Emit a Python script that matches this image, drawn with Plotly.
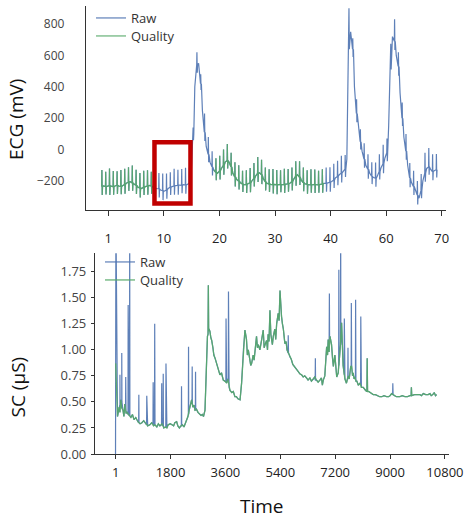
import plotly.graph_objects as go

# ---------------- ECG (top) data ----------------
ecg_tick_labels = ["1", "10", "20", "30", "40", "60", "70"]
ECG_T0 = -0.119      # position of first sample (tick-index units)
ECG_DT = 0.0342      # sampling step of the baseline
ecg_base = [
    -235, -232, -236, -234, -230, -233, -237, -232, -228, -232,
    -235, -230, -222, -215, -208, -205, -212, -220, -228, -238,
    -245, -248, -240, -236, -232, -228, -232, -240, -246, -248,
    -250, -258, -262, -265, -258, -248, -240, -236, -232, -230,
    -228, -226, -228, -224, -226, -222, -215, -190, 100, 400,
    540, 550, 420, 250, 110, 20, -30, -80, -110, -130,
    -145, -150, -135, -120, -100, -80, -70, -80, -110, -150,
    -175, -190, -200, -212, -220, -224, -222, -218, -212, -200,
    -185, -168, -152, -148, -160, -185, -205, -215, -220, -222,
    -224, -222, -225, -223, -222, -224, -222, -220, -218, -215,
    -205, -190, -170, -160, -175, -195, -210, -218, -222, -224,
    -225, -224, -222, -224, -225, -222, -220, -215, -214, -212,
    -208, -204, -195, -180, -172, -160, -150, -140, -125, -60,
    700, 750, 640, 400, 230, 150, 50, -10, -60, -100,
    -125, -150, -170, -178, -182, -170, -140, -115, -90, -55,
    -20, 150, 560, 720, 690, 600, 530, 360, 200, 80,
    -10, -100, -180, -210, -235, -260, -290, -310, -260, -200,
    -150, -120, -110, -125, -140, -135, -128,
]
ecg_up = [
    105, 95, 110, 100, 90, 105, 100, 95, 110, 100, 95, 105, 100, 90,
    85, 100, 110, 105, 95, 110, 100, 105, 110, 100, 40,
    80, 60, 120, 110, 100,
    90, 95, 100, 105, 90, 95, 100, 85, 90, 95, 100, 105, 95, 90, 95,
    100, 95, 90, 100, 95, 90, 95, 100, 95, 90, 100, 95, 90, 95,
    100, 95, 105, 100, 110, 90, 200, 70, 90, 80, 100, 95, 90, 100, 110,
    120, 90, 115, 140, 90, 100, 110, 95, 100, 90, 105, 130, 120, 110, 100,
]
ecg_dn = [
    55, 50, 60, 50, 55, 50, 60, 55, 50, 55, 60, 50, 55, 50,
    50, 55, 60, 55, 50, 55, 60, 50, 55, 50, 40,
    50, 40, 55, 50, 55,
    50, 55, 60, 50, 55, 60, 55, 50, 55, 60, 50, 55, 60, 55, 50,
    55, 60, 50, 55, 50, 55, 60, 50, 55, 60, 50, 55, 50, 55,
    55, 60, 50, 55, 60, 50, 60, 50, 55, 50, 55, 60, 50, 55, 50,
    60, 55, 50, 55, 60, 50, 55, 60, 55, 60, 50, 55, 50, 55, 50,
]
ecg_quality_start = [-0.2, 1.89]
ecg_quality_end = [0.786, 3.90]

# ---------------- SC (bottom) data ----------------
sc_tick_vals = [1, 1800, 3600, 5400, 7200, 9000, 10800]
sc_tick_text = ["1", "1800", "3600", "5400", "7200", "9000", "10800"]
sc_t = [
    0, 60, 110, 140, 170, 200, 240, 270, 300, 340, 370, 440, 500, 550, 600, 660,
    730, 800, 860, 920, 990, 1050, 1120, 1180, 1240, 1290, 1350, 1400, 1450, 1520,
    1580, 1620, 1680, 1720, 1790, 1850, 1900, 1940, 2000, 2040, 2090, 2140, 2190,
    2240, 2280, 2310, 2340, 2370, 2410, 2440, 2490, 2530, 2570, 2600, 2650, 2700,
    2750, 2800, 2840, 2880, 2930, 2980, 3010, 3030, 3040, 3050, 3060, 3090, 3120,
    3150, 3190, 3220, 3260, 3310, 3360, 3420, 3470, 3530, 3580, 3640, 3680, 3720,
    3750, 3810, 3860, 3910, 3960, 4010, 4080, 4130, 4190, 4240, 4290, 4320, 4350,
    4400, 4430, 4460, 4510, 4540, 4570, 4620, 4650, 4680, 4730, 4760, 4790, 4840,
    4870, 4900, 4950, 4980, 5000, 5030, 5060, 5090, 5110, 5140, 5170, 5220, 5250,
    5280, 5330, 5360, 5390, 5410, 5440, 5470, 5500, 5550, 5590, 5620, 5670, 5720,
    5760, 5810, 5870, 5940, 5990, 6040, 6100, 6150, 6200, 6260, 6310, 6370, 6420,
    6480, 6530, 6590, 6640, 6700, 6750, 6780, 6810, 6860, 6920, 6950, 6970, 7000,
    7030, 7080, 7110, 7140, 7190, 7220, 7250, 7300, 7330, 7360, 7410, 7440, 7460,
    7490, 7520, 7570, 7600, 7630, 7660, 7680, 7710, 7740, 7770, 7790, 7820, 7850,
    7880, 7910, 7960, 8010, 8060, 8120, 8160, 8200, 8240, 8250, 8262, 8300, 8340,
    8400, 8450, 8520, 8600, 8660, 8730, 8800, 8890, 8950, 9000, 9050, 9100, 9150,
    9210, 9320, 9400, 9490, 9570, 9650, 9690, 9700, 9712, 9800, 9880, 9980, 10030,
    10090, 10170, 10250, 10310, 10350, 10400, 10450, 10490, 10530,
]
sc_quality = [
    0.87, 0.36, 0.45, 0.40, 0.52, 0.44, 0.42, 0.36, 0.48, 0.39, 0.40, 0.37, 0.35, 0.38, 0.33, 0.35,
    0.31, 0.29, 0.30, 0.32, 0.29, 0.27, 0.28, 0.30, 0.27, 0.28, 0.26, 0.29, 0.27, 0.29,
    0.25, 0.26, 0.25, 0.28, 0.29, 0.28, 0.27, 0.30, 0.31, 0.27, 0.25, 0.27, 0.28,
    0.26, 0.29, 0.30, 0.33, 0.36, 0.42, 0.45, 0.52, 0.45, 0.47, 0.42, 0.43, 0.40,
    0.38, 0.37, 0.38, 0.36, 0.42, 0.95, 1.13, 1.15, 1.62, 1.18, 1.20, 1.18, 1.12,
    1.09, 1.02, 0.95, 0.92, 0.87, 0.80, 0.76, 0.78, 0.71, 0.70, 0.68, 0.72, 0.64,
    0.61, 0.59, 0.60, 0.55, 0.55, 0.53, 0.52, 0.68, 1.00, 1.19, 1.10, 0.95, 1.00,
    0.92, 0.85, 0.87, 0.95, 0.90, 1.00, 1.13, 1.02, 1.05, 1.00, 1.08, 1.10, 1.19,
    1.02, 1.05, 1.09, 1.00, 1.15, 1.08, 1.38, 1.15, 1.12, 1.05, 1.13, 1.20, 1.10,
    1.25, 1.35, 1.28, 1.57, 1.40, 1.32, 1.25, 1.20, 1.06, 1.08, 1.00, 0.97, 0.93,
    0.91, 0.86, 0.84, 0.81, 0.79, 0.77, 0.76, 0.74, 0.75, 0.73, 0.71, 0.73, 0.70,
    0.72, 0.74, 0.71, 0.69, 0.71, 0.73, 0.66, 0.71, 0.75, 1.03, 0.95, 1.10, 0.98,
    1.13, 1.05, 0.92, 0.84, 0.95, 0.80, 0.74, 0.78, 0.88, 1.00, 1.26, 1.00, 0.85,
    0.78, 0.72, 0.68, 0.73, 0.75, 0.72, 0.80, 0.84, 0.84, 0.75, 0.78, 0.72, 0.74,
    0.70, 0.70, 0.66, 0.68, 0.64, 0.64, 0.62, 0.61, 0.60, 0.92, 0.60, 0.60, 0.59,
    0.58, 0.57, 0.57, 0.56, 0.55, 0.55, 0.56, 0.55, 0.55, 0.56, 0.58, 0.57, 0.56,
    0.55, 0.55, 0.56, 0.55, 0.55, 0.56, 0.56, 0.64, 0.56, 0.57, 0.57, 0.57, 0.56,
    0.58, 0.57, 0.57, 0.58, 0.56, 0.57, 0.59, 0.56, 0.57,
]
# raw-only samples at the very start (signal rising from 0)
sc_raw_start_t = [-5, 8]
sc_raw_start_v = [0.0, 2.3]
# raw artefact spikes: time, peak value, level the spike rises from
sc_spike_t = [140, 200, 330, 410, 460, 760, 1020, 1230, 1280, 1510, 1560,
              1650, 2160, 2390, 2510, 2620, 3620, 3700, 5660, 6550, 7010, 7320,
              7380, 7400, 7500, 7620, 7730, 7870, 8040, 9090]
sc_spike_v = [0.76, 0.97, 0.74, 1.43, 2.3, 0.57, 0.56, 0.69, 1.25, 0.68, 0.77,
              0.87, 0.65, 1.03, 0.84, 0.79, 1.30, 1.56, 1.14, 0.92, 1.54, 1.77,
              2.3, 2.3, 1.30, 1.02, 1.45, 1.48, 1.32, 0.68]
sc_spike_base = [0.47, 0.50, 0.45, 0.38, 0.37, 0.30, 0.28, 0.29, 0.28, 0.28, 0.27,
                 0.26, 0.27, 0.38, 0.48, 0.42, 0.69, 0.70, 0.97, 0.71, 1.12, 0.85,
                 1.05, 1.15, 0.76, 0.74, 0.83, 0.72, 0.67, 0.57]

BLUE = "rgba(76,114,176,0.9)"
GREEN = "rgba(85,168,104,0.9)"
FONT = "Open Sans"

# ---------- build ECG series ----------
ecg_x, ecg_y = [], []
for k, base in enumerate(ecg_base):
    u = ECG_T0 + k * ECG_DT
    ecg_x.append(u)
    ecg_y.append(base)
    i = k // 2
    if k % 2 == 0 and i < len(ecg_up):
        ecg_x += [u + 0.004, u + 0.010, u + 0.016]
        ecg_y += [base + ecg_up[i], base - ecg_dn[i], base]


def in_quality(u):
    return any(s <= u <= e for s, e in zip(ecg_quality_start, ecg_quality_end))


ecg_q = [v if in_quality(u) else None for u, v in zip(ecg_x, ecg_y)]

# ---------- build SC raw ----------
pts = list(zip(sc_t, sc_quality)) + list(zip(sc_raw_start_t, sc_raw_start_v))
for t, v, b in zip(sc_spike_t, sc_spike_v, sc_spike_base):
    pts += [(t - 6, b), (t, v), (t + 6, b)]
pts.sort(key=lambda p: p[0])
sc_raw_t = [p[0] for p in pts]
sc_raw_v = [p[1] for p in pts]

fig = go.Figure()
fig.add_trace(go.Scatter(x=ecg_x, y=ecg_y, mode="lines", name="Raw",
                         line=dict(color=BLUE, width=1.2), legend="legend",
                         xaxis="x", yaxis="y"))
fig.add_trace(go.Scatter(x=ecg_x, y=ecg_q, mode="lines", name="Quality",
                         line=dict(color=GREEN, width=1.2), legend="legend3",
                         connectgaps=False, xaxis="x", yaxis="y"))
fig.add_trace(go.Scatter(x=sc_raw_t, y=sc_raw_v, mode="lines", name="Raw",
                         line=dict(color=BLUE, width=1.2), legend="legend2",
                         xaxis="x2", yaxis="y2"))
fig.add_trace(go.Scatter(x=sc_t, y=sc_quality, mode="lines", name="Quality",
                         line=dict(color=GREEN, width=1.3), legend="legend4",
                         xaxis="x2", yaxis="y2"))

W, H = 467, 520
axis_common = dict(showgrid=False, zeroline=False, showline=True,
                   linecolor="#333", linewidth=1.3, automargin=False,
                   tickcolor="#333")
leg_common = dict(xanchor="left", yanchor="top", bgcolor="rgba(0,0,0,0)",
                  font=dict(size=13, color="#333"), tracegroupgap=0)

fig.update_layout(
    width=W, height=H,
    margin=dict(l=0, r=0, t=0, b=0),
    paper_bgcolor="white", plot_bgcolor="white",
    font=dict(family=FONT, color="#333"),
    xaxis=dict(axis_common, domain=[86 / W, 446 / W], range=[-0.401, 6.077],
               tickvals=list(range(len(ecg_tick_labels))), ticktext=ecg_tick_labels,
               ticks="outside", ticklen=5, ticklabelstandoff=11,
               tickfont=dict(size=13, color="#222"), anchor="y"),
    yaxis=dict(axis_common, domain=[1 - 210 / H, 1 - 6 / H], range=[-385, 915],
               tickvals=[-200, 0, 200, 400, 600, 800], ticks="outside", ticklen=3,
               tickcolor="rgba(0,0,0,0)", ticklabelstandoff=15,
               tickfont=dict(size=12, color="#444"), anchor="x"),
    xaxis2=dict(axis_common, domain=[95 / W, 449.3 / W], range=[-678, 10943],
                tickvals=sc_tick_vals, ticktext=sc_tick_text, ticks="outside",
                ticklen=4, ticklabelstandoff=2,
                tickfont=dict(size=13, color="#222"), anchor="y2"),
    yaxis2=dict(axis_common, domain=[1 - 454 / H, 1 - 253.3 / H], range=[0, 1.927],
                tickvals=[0, 0.25, 0.5, 0.75, 1.0, 1.25, 1.5, 1.75], tickformat=".2f",
                ticks="outside", ticklen=3, ticklabelstandoff=2,
                tickfont=dict(size=13, color="#444"), anchor="x2"),
    legend=dict(leg_common, x=91 / W, y=1 - 3 / H),
    legend3=dict(leg_common, x=91 / W, y=1 - 21 / H),
    legend2=dict(leg_common, x=100 / W, y=1 - 247 / H),
    legend4=dict(leg_common, x=100 / W, y=1 - 265 / H),
    showlegend=True,
    annotations=[
        dict(text="ECG (mV)", x=16 / W, y=1 - 120 / H, xref="paper", yref="paper",
             textangle=-90, showarrow=False, font=dict(size=19, color="#111"),
             xanchor="center", yanchor="middle"),
        dict(text="SC (µS)", x=17.5 / W, y=1 - 387 / H, xref="paper", yref="paper",
             textangle=-90, showarrow=False, font=dict(size=19, color="#111"),
             xanchor="center", yanchor="middle"),
        dict(text="Time", x=262 / W, y=1 - 506 / H, xref="paper", yref="paper",
             showarrow=False, font=dict(size=19, color="#111"),
             xanchor="center", yanchor="middle"),
    ],
    shapes=[
        dict(type="rect", xref="x", yref="y", x0=0.831, x1=1.479, y0=-344, y1=47,
             line=dict(color="#c00000", width=4.5), fillcolor="rgba(0,0,0,0)"),
    ],
)

fig.write_html("out.html", config={"displayModeBar": False},
               post_script="document.body.style.margin='0';document.body.style.padding='0';")
